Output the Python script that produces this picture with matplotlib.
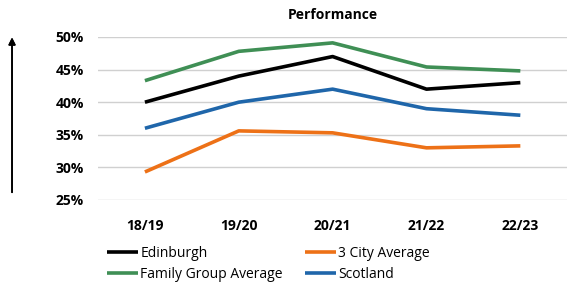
import matplotlib.pyplot as plt
from matplotlib.ticker import FuncFormatter

years = ["18/19", "19/20", "20/21", "21/22", "22/23"]
edinburgh = [40.0, 44.0, 47.0, 42.0, 43.0]
three_city = [29.3, 35.6, 35.3, 33.0, 33.3]
family_group = [43.3, 47.8, 49.1, 45.4, 44.8]
scotland = [36.0, 40.0, 42.0, 39.0, 38.0]

plt.rcParams["font.family"] = ["Open Sans", "DejaVu Sans"]

fig = plt.figure(figsize=(5.73, 2.89), dpi=100)
ax = fig.add_axes([0.171, 0.308, 0.819, 0.564])

x = range(len(years))
lines = {}
lines["ed"], = ax.plot(x, edinburgh, color="#000000", lw=2.6, label="Edinburgh", solid_capstyle="butt")
lines["tc"], = ax.plot(x, three_city, color="#ed7117", lw=2.6, label="3 City Average", solid_capstyle="butt")
lines["fg"], = ax.plot(x, family_group, color="#3f8f55", lw=2.6, label="Family Group Average", solid_capstyle="butt")
lines["sc"], = ax.plot(x, scotland, color="#1f66aa", lw=2.6, label="Scotland", solid_capstyle="butt")

ax.set_xlim(-0.5, len(years) - 0.5)
ax.set_ylim(25, 50)
ax.set_yticks(range(25, 51, 5))
ax.yaxis.set_major_formatter(FuncFormatter(lambda v, _: f"{v:.0f}%"))
ax.set_xticks(list(x), years)
for lab in ax.get_xticklabels() + ax.get_yticklabels():
    lab.set_fontweight("bold")
    lab.set_fontsize(10)
ax.tick_params(length=0)
ax.tick_params(axis="x", pad=14)
ax.tick_params(axis="y", pad=10)
ax.grid(axis="y", color="#d0d0d0", lw=1)
ax.set_axisbelow(True)
for s in ax.spines.values():
    s.set_visible(False)

ax.set_title("Performance", fontsize=10, fontweight="bold", pad=13)

# column-wise fill: col 1 = Edinburgh, Family; col 2 = 3 City, Scotland
fig.legend(
    [lines["ed"], lines["fg"], lines["tc"], lines["sc"]],
    ["Edinburgh", "Family Group Average", "3 City Average", "Scotland"],
    ncol=2, loc="lower left", bbox_to_anchor=(0.165, -0.02),
    frameon=False, fontsize=10, handlelength=2.2, handletextpad=0.2,
    columnspacing=1.6, labelspacing=0.45,
)

fig.add_artist(plt.annotate(
    "", xy=(0.021, 0.88), xytext=(0.021, 0.325), xycoords="figure fraction",
    arrowprops=dict(arrowstyle="-|>", color="black", lw=1.2, mutation_scale=10),
))

fig.savefig("out.png", dpi=100)
